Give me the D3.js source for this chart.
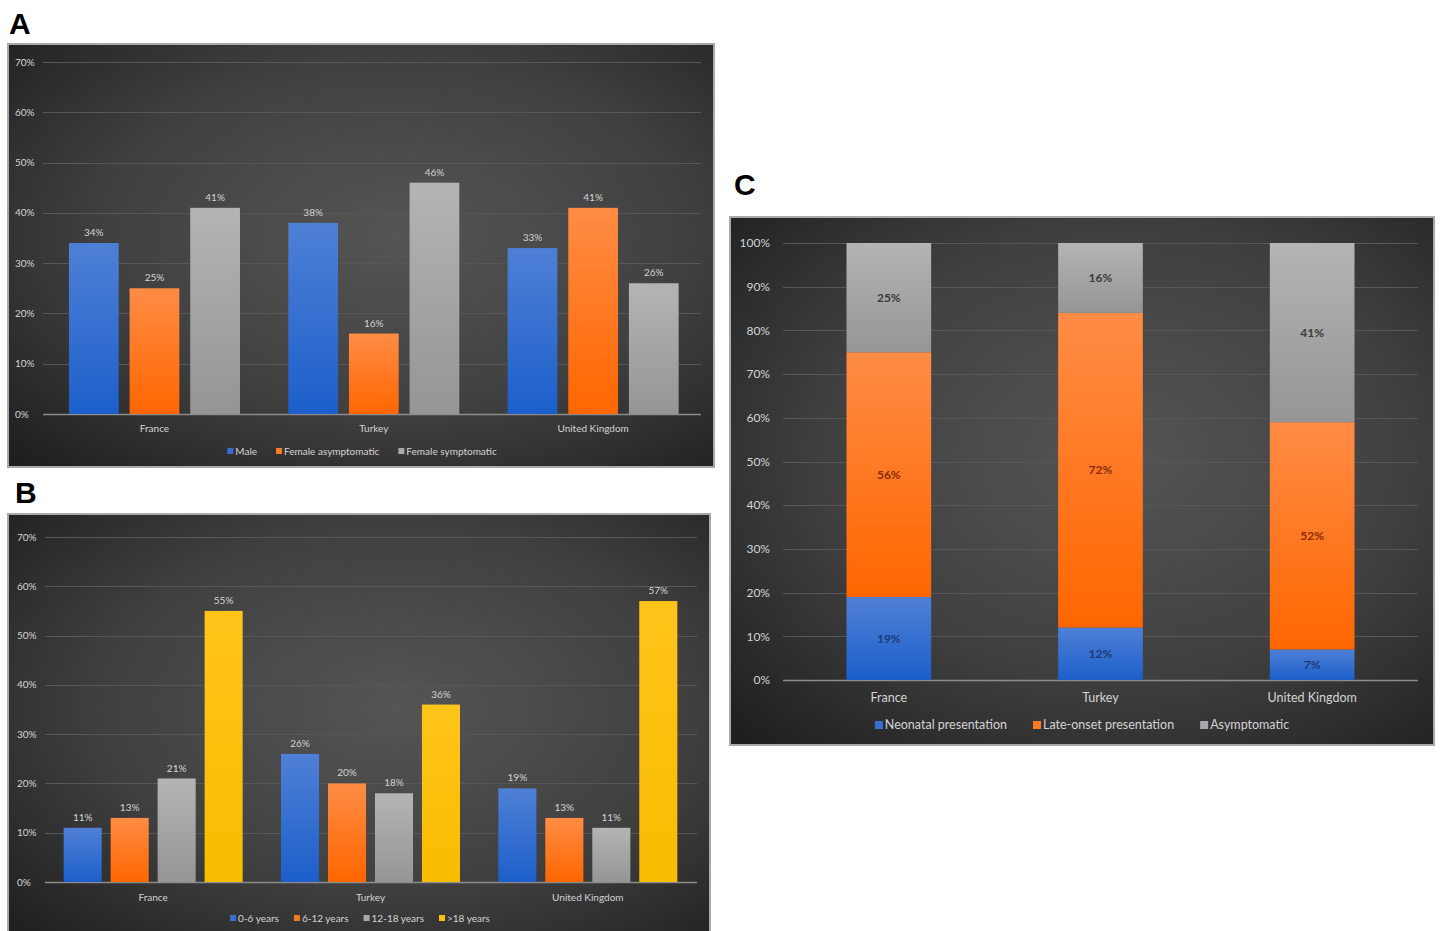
<!DOCTYPE html>
<html>
<head>
<meta charset="utf-8">
<script src="https://cdn.jsdelivr.net/npm/d3@7"></script>
<style>
  html, body { margin: 0; padding: 0; background: #ffffff; }
  svg { display: block; font-family: Lato, "Open Sans", sans-serif; }
</style>
</head>
<body>
<script>
// ---- Data ----
const countries = ["France", "Turkey", "United Kingdom"];

// Panel A: sex / symptom status (%)
const aSeries = ["Male", "Female asymptomatic", "Female symptomatic"];
const aMale = [34, 38, 33];
const aFemaleAsymptomatic = [25, 16, 41];
const aFemaleSymptomatic = [41, 46, 26];

// Panel B: age group (%)
const bSeries = ["0-6 years", "6-12 years", "12-18 years", ">18 years"];
const bAge0to6 = [11, 26, 19];
const bAge6to12 = [13, 20, 13];
const bAge12to18 = [21, 18, 11];
const bAgeOver18 = [55, 36, 57];

// Panel C: presentation (stacked, %)
const cSeries = ["Neonatal presentation", "Late-onset presentation", "Asymptomatic"];
const cNeonatal = [19, 12, 7];
const cLateOnset = [56, 72, 52];
const cAsymptomatic = [25, 16, 41];

const ticks70 = [0, 10, 20, 30, 40, 50, 60, 70];
const ticks100 = [0, 10, 20, 30, 40, 50, 60, 70, 80, 90, 100];

// ---- Styling ----
const palette = {
  blue:   ["#4f80d6", "#1c5fca"],
  orange: ["#ff8c45", "#ff6600"],
  gray:   ["#b4b4b4", "#959595"],
  yellow: ["#ffc41a", "#f8bc00"]
};
const swatch = { blue: "#3a6fd0", orange: "#ff7a1f", gray: "#a8a8a8", yellow: "#ffc000" };
const textLight = "#d4d4d4";

const svg = d3.select("body").append("svg")
  .attr("width", 1442).attr("height", 931);

const defs = svg.append("defs");
const bg = defs.append("radialGradient").attr("id", "bg")
  .attr("cx", "55%").attr("cy", "45%").attr("r", "75%");
bg.append("stop").attr("offset", "0%").attr("stop-color", "#555555");
bg.append("stop").attr("offset", "55%").attr("stop-color", "#404040");
bg.append("stop").attr("offset", "100%").attr("stop-color", "#1f1f1f");

Object.entries(palette).forEach(([k, [top, bottom]]) => {
  const g = defs.append("linearGradient").attr("id", "g-" + k)
    .attr("x1", 0).attr("y1", 0).attr("x2", 0).attr("y2", 1);
  g.append("stop").attr("offset", "0%").attr("stop-color", top);
  g.append("stop").attr("offset", "100%").attr("stop-color", bottom);
});

function panelLetter(letter, x, y) {
  svg.append("text").attr("x", x).attr("y", y)
    .attr("font-family", "'Liberation Sans', Arial, sans-serif")
    .attr("font-weight", 700).attr("font-size", 30).attr("fill", "#000")
    .text(letter);
}

function frame(x, y, w, h) {
  svg.append("rect").attr("x", x).attr("y", y).attr("width", w).attr("height", h)
    .attr("fill", "url(#bg)").attr("stroke", "#a9a9a9").attr("stroke-width", 2);
}

function yAxis(g, y, ticks, left, right, labelX, anchor, fs) {
  const grid = g.append("g");
  grid.selectAll("line").data(ticks.filter(t => t > 0)).join("line")
    .attr("x1", left).attr("x2", right)
    .attr("y1", d => Math.round(y(d)) + 0.5).attr("y2", d => Math.round(y(d)) + 0.5)
    .attr("stroke", "#575757").attr("stroke-width", 1);
  g.selectAll("text.tick").data(ticks).join("text").attr("class", "tick")
    .attr("x", labelX).attr("y", d => y(d)).attr("dy", "0.35em")
    .attr("text-anchor", anchor).attr("font-size", fs).attr("fill", textLight)
    .text(d => d + "%");
  g.append("line").attr("x1", left).attr("x2", right)
    .attr("y1", y(0) + 0.5).attr("y2", y(0) + 0.5)
    .attr("stroke", "#8c8c8c").attr("stroke-width", 1.5);
}

function legend(g, items, cx, cy, fs, sq, gap) {
  const lg = g.append("g");
  let x = 0;
  items.forEach(it => {
    const item = lg.append("g").attr("transform", `translate(${x},0)`);
    item.append("rect").attr("x", 0).attr("y", -sq / 2).attr("width", sq).attr("height", sq)
      .attr("fill", swatch[it.color]);
    const t = item.append("text").attr("x", sq + 2).attr("y", 0).attr("dy", "0.35em")
      .attr("font-size", fs).attr("fill", textLight).text(it.name);
    x += sq + 2 + t.node().getComputedTextLength() + gap;
  });
  const total = x - gap;
  lg.attr("transform", `translate(${cx - total / 2},${cy})`);
}

// Grouped bar panel (A and B)
function groupedPanel(cfg) {
  const g = svg.append("g");
  const y = d3.scaleLinear().domain([0, 70]).range([cfg.y0, cfg.y70]);
  yAxis(g, y, ticks70, cfg.left, cfg.right, cfg.labelX, "start", cfg.fs);

  const x0 = d3.scaleBand().domain(countries).range([cfg.left, cfg.right]);
  const c = x0.bandwidth() / 2 + cfg.shift;
  const x1 = d3.scaleBand().domain(cfg.series.map(s => s.name))
    .range([c - cfg.groupW / 2, c + cfg.groupW / 2])
    .paddingInner(cfg.pad);

  const rows = [];
  countries.forEach((country, i) => {
    cfg.series.forEach(s => rows.push({ country, name: s.name, color: s.color, v: s.values[i] }));
  });

  g.selectAll("rect.bar").data(rows).join("rect").attr("class", "bar")
    .attr("x", d => x0(d.country) + x1(d.name))
    .attr("width", x1.bandwidth())
    .attr("y", d => y(d.v))
    .attr("height", d => y(0) - y(d.v))
    .attr("fill", d => `url(#g-${d.color})`);

  g.selectAll("text.val").data(rows).join("text").attr("class", "val")
    .attr("x", d => x0(d.country) + x1(d.name) + x1.bandwidth() / 2)
    .attr("y", d => y(d.v) - 7)
    .attr("text-anchor", "middle").attr("font-size", cfg.fs).attr("fill", textLight)
    .text(d => d.v + "%");

  g.selectAll("text.cat").data(countries).join("text").attr("class", "cat")
    .attr("x", d => x0(d) + c).attr("y", cfg.catY).attr("dy", "0.35em")
    .attr("text-anchor", "middle").attr("font-size", cfg.fs).attr("fill", textLight)
    .text(d => d);

  legend(g, cfg.series, cfg.legendX, cfg.legendY, cfg.fs, 6, cfg.legendGap);
}

// ---- Panel A ----
panelLetter("A", 9, 34);
frame(8, 44, 706, 423);
groupedPanel({
  y0: 414, y70: 62, left: 43, right: 701, labelX: 15, fs: 10,
  shift: 1.8, groupW: 171, pad: 0.18,
  catY: 428, legendX: 362, legendY: 451, legendGap: 19,
  series: [
    { name: aSeries[0], color: "blue", values: aMale },
    { name: aSeries[1], color: "orange", values: aFemaleAsymptomatic },
    { name: aSeries[2], color: "gray", values: aFemaleSymptomatic }
  ]
});

// ---- Panel B ----
panelLetter("B", 15, 503);
frame(8, 514, 702, 430);
groupedPanel({
  y0: 882, y70: 537, left: 45, right: 697, labelX: 17, fs: 10,
  shift: -0.5, groupW: 179, pad: 0.19,
  catY: 897, legendX: 360, legendY: 918, legendGap: 15,
  series: [
    { name: bSeries[0], color: "blue", values: bAge0to6 },
    { name: bSeries[1], color: "orange", values: bAge6to12 },
    { name: bSeries[2], color: "gray", values: bAge12to18 },
    { name: bSeries[3], color: "yellow", values: bAgeOver18 }
  ]
});

// ---- Panel C (100% stacked) ----
panelLetter("C", 734, 195);
frame(730, 217, 704, 528);
(function () {
  const g = svg.append("g");
  const left = 783, right = 1418;
  const y = d3.scaleLinear().domain([0, 100]).range([680, 243]);
  yAxis(g, y, ticks100, left, right, 770, "end", 12);

  const x = d3.scaleBand().domain(countries).range([left, right]);
  const barW = x.bandwidth() * 0.4;
  const bx = d => x(d) + (x.bandwidth() - barW) / 2;

  const series = [
    { name: cSeries[0], color: "blue", values: cNeonatal, label: "#1d3a78" },
    { name: cSeries[1], color: "orange", values: cLateOnset, label: "#8a2a05" },
    { name: cSeries[2], color: "gray", values: cAsymptomatic, label: "#3a3a3a" }
  ];
  const table = countries.map((country, i) => {
    const row = { country };
    series.forEach(s => { row[s.name] = s.values[i]; });
    return row;
  });
  const stacked = d3.stack().keys(series.map(s => s.name))(table);

  stacked.forEach((layer, li) => {
    const s = series[li];
    const lg = g.append("g");
    lg.selectAll("rect").data(layer).join("rect")
      .attr("x", d => bx(d.data.country)).attr("width", barW)
      .attr("y", d => y(d[1])).attr("height", d => y(d[0]) - y(d[1]))
      .attr("fill", `url(#g-${s.color})`);
    lg.selectAll("text").data(layer).join("text")
      .attr("x", d => bx(d.data.country) + barW / 2)
      .attr("y", d => y((d[0] + d[1]) / 2)).attr("dy", "0.35em")
      .attr("text-anchor", "middle").attr("font-size", 12).attr("font-weight", 700)
      .attr("fill", s.label)
      .text(d => (d[1] - d[0]) + "%");
  });

  g.selectAll("text.cat").data(countries).join("text").attr("class", "cat")
    .attr("x", d => x(d) + x.bandwidth() / 2).attr("y", 698).attr("dy", "0.35em")
    .attr("text-anchor", "middle").attr("font-size", 12.5).attr("fill", textLight)
    .text(d => d);

  legend(g, series, 1082, 725, 12.5, 8, 26);
})();
</script>
</body>
</html>
